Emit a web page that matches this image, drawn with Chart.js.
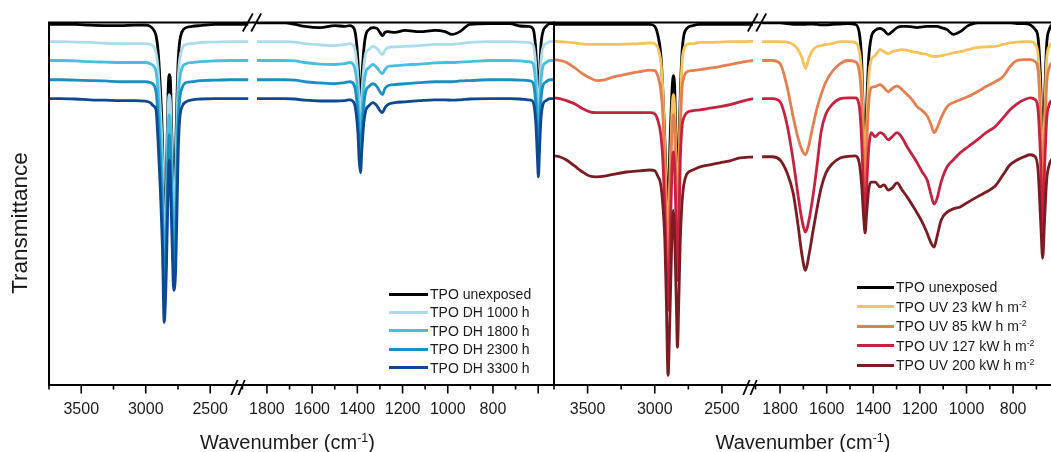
<!DOCTYPE html>
<html><head><meta charset="utf-8">
<script src="https://cdn.jsdelivr.net/npm/chart.js@4"></script>
<style>
html,body{margin:0;padding:0;background:#fff;}
#wrap{position:relative;width:1051px;height:452px;overflow:hidden;font-family:"Liberation Sans",Arial,sans-serif;color:#1a1a1a;}
canvas{position:absolute;top:0;}
#cL{left:0;}
#cR{left:540px;}
.row{position:absolute;height:18px;display:flex;align-items:center;white-space:nowrap;font-size:14px;}
.sw{display:inline-block;height:3px;margin-right:2px;}
.ttl{position:absolute;font-size:20px;line-height:24px;height:24px;white-space:nowrap;text-align:center;}
sup{font-size:0.62em;line-height:0;vertical-align:0.55em;}
</style></head>
<body>
<div id="wrap">
<canvas id="cL" width="556" height="452" style="width:556px;height:452px"></canvas>
<canvas id="cR" width="530" height="452" style="width:530px;height:452px"></canvas>
</div>
<script>
// ---------------- DATA ----------------
// wavenumber grids (cm-1) for each axis segment of each panel
const leftSeg1Wn = [3745, 3660, 3545, 3430, 3315, 3195, 3080, 3005, 2965, 2940, 2920, 2905, 2890, 2870, 2857, 2840, 2826, 2818, 2810, 2795, 2783, 2768, 2756, 2748, 2737, 2718, 2687, 2640, 2578, 2460, 2345, 2205];
const leftSeg2Wn = [1844, 1787, 1720, 1676, 1632, 1565, 1499, 1455, 1433, 1415, 1406, 1397, 1392, 1386, 1380, 1371, 1362, 1349, 1331, 1313, 1300, 1289, 1278, 1265, 1234, 1189, 1123, 1057, 1012, 981, 946, 902, 813, 725, 680, 645, 627, 619, 610, 604, 599, 594, 588, 579, 565, 548, 531];
const rightSeg1Wn = [3746, 3709, 3657, 3597, 3537, 3485, 3433, 3373, 3298, 3209, 3112, 3037, 3000, 2978, 2955, 2940, 2925, 2914, 2901, 2888, 2873, 2862, 2851, 2840, 2831, 2821, 2810, 2798, 2784, 2761, 2716, 2664, 2590, 2515, 2440, 2366, 2269];
const rightSeg2Wn = [1877, 1834, 1800, 1770, 1744, 1723, 1706, 1691, 1676, 1658, 1641, 1624, 1603, 1577, 1542, 1508, 1478, 1461, 1450, 1442, 1435, 1429, 1420, 1409, 1392, 1371, 1354, 1336, 1319, 1298, 1276, 1255, 1233, 1212, 1190, 1169, 1152, 1139, 1126, 1109, 1083, 1057, 1027, 993, 954, 916, 877, 843, 813, 783, 753, 727, 705, 693, 682, 673, 665, 656, 645, 628, 607, 581];

// left panel (damp heat) - transmittance, arbitrary offset units
const leftLabels = ['TPO unexposed', 'TPO DH 1000 h', 'TPO DH 1800 h', 'TPO DH 2300 h', 'TPO DH 3300 h'];
const leftColors = ['#000000', '#acdcec', '#47bfdf', '#1a8fc2', '#0c4893'];
const leftUnexposed1 = [99.4, 99.4, 99.4, 99.2, 99.1, 99.1, 99.2, 99.2, 98.9, 98.1, 96.6, 93.1, 85.6, 70.6, 48.1, 60.6, 83.1, 86.9, 86.1, 68.1, 55.6, 68.1, 83.1, 90.6, 95.1, 97.6, 98.6, 98.9, 99.1, 99.4, 99.4, 99.4];
const leftDH1000_1 = [95.1, 95.1, 95.0, 94.9, 94.7, 94.6, 94.6, 94.6, 94.4, 93.9, 92.4, 88.6, 80.6, 65.6, 43.1, 55.6, 78.1, 81.9, 80.6, 63.1, 50.6, 61.9, 78.1, 85.6, 90.6, 93.4, 94.4, 94.6, 94.9, 95.0, 95.1, 95.1];
const leftDH1800_1 = [90.4, 90.4, 90.3, 90.1, 90.0, 89.9, 89.9, 89.9, 89.6, 89.1, 87.6, 83.1, 74.4, 59.4, 38.1, 50.6, 73.1, 76.9, 75.6, 56.9, 44.4, 54.4, 70.6, 80.6, 85.6, 88.6, 89.6, 89.9, 90.1, 90.3, 90.4, 90.4];
const leftDH2300_1 = [85.6, 85.6, 85.5, 85.4, 85.3, 85.1, 85.1, 85.1, 84.9, 84.4, 82.6, 76.9, 68.1, 51.9, 30.6, 44.4, 66.9, 71.9, 69.4, 50.6, 38.6, 46.9, 63.1, 74.4, 80.6, 83.6, 84.9, 85.1, 85.4, 85.5, 85.6, 85.6];
const leftDH3300_1 = [80.9, 80.9, 80.8, 80.6, 80.5, 80.4, 80.4, 80.3, 79.9, 79.1, 78.1, 70.6, 60.6, 43.1, 25.1, 38.1, 59.4, 65.6, 61.9, 44.4, 33.1, 38.1, 55.6, 68.1, 75.6, 78.9, 80.1, 80.6, 80.8, 80.9, 80.9, 80.9];
const leftUnexposed2 = [99.8, 99.8, 99.8, 99.4, 98.9, 98.6, 99.1, 98.9, 99.1, 98.4, 96.1, 90.1, 83.9, 80.6, 86.4, 93.4, 96.9, 98.1, 98.6, 98.4, 97.4, 96.6, 97.4, 97.6, 97.4, 97.9, 97.6, 97.9, 97.6, 96.9, 97.6, 99.4, 99.6, 99.6, 99.0, 98.9, 98.6, 97.6, 92.6, 85.1, 79.4, 86.4, 93.9, 97.6, 98.9, 99.6, 99.6];
const leftDH1000_2 = [95.1, 95.1, 95.1, 95.0, 94.6, 94.3, 94.1, 94.4, 94.6, 93.9, 91.6, 85.9, 79.6, 76.1, 82.1, 89.1, 92.4, 93.1, 93.9, 93.4, 92.4, 91.9, 92.9, 93.6, 93.8, 93.9, 94.1, 94.4, 94.4, 94.4, 94.6, 94.9, 95.1, 95.1, 95.0, 94.9, 94.6, 93.6, 88.6, 81.1, 75.4, 82.4, 89.9, 93.6, 94.6, 95.1, 95.1];
const leftDH1800_2 = [90.4, 90.4, 90.4, 90.3, 89.9, 89.5, 89.4, 89.6, 89.9, 89.1, 86.9, 81.1, 74.9, 71.4, 77.4, 84.4, 87.6, 88.6, 89.4, 88.6, 87.6, 87.1, 88.1, 88.9, 89.1, 89.3, 89.5, 89.8, 89.9, 89.9, 90.0, 90.1, 90.4, 90.4, 90.3, 90.1, 89.9, 88.9, 83.9, 76.4, 70.6, 77.6, 85.1, 88.9, 89.9, 90.4, 90.4];
const leftDH2300_2 = [85.6, 85.6, 85.6, 85.5, 85.1, 84.8, 84.6, 84.9, 85.1, 84.4, 82.1, 76.4, 70.1, 66.6, 72.6, 79.6, 82.9, 83.9, 84.6, 83.9, 82.6, 81.9, 83.4, 84.1, 84.4, 84.6, 84.9, 85.1, 85.1, 85.1, 85.3, 85.4, 85.6, 85.6, 85.5, 85.4, 85.1, 84.1, 79.1, 71.6, 65.9, 72.9, 80.4, 84.1, 85.1, 85.6, 85.6];
const leftDH3300_2 = [80.9, 80.9, 80.9, 80.8, 80.5, 80.3, 80.3, 80.4, 80.6, 79.9, 77.6, 71.9, 65.6, 62.4, 68.1, 75.1, 78.1, 79.1, 79.9, 79.1, 77.9, 77.4, 78.6, 79.4, 79.9, 80.1, 80.4, 80.6, 80.6, 80.5, 80.6, 80.8, 80.9, 80.9, 80.8, 80.6, 80.4, 79.4, 74.4, 66.9, 61.4, 68.1, 75.6, 79.4, 80.4, 80.9, 80.9];

// right panel (UV)
const rightLabels = ['TPO unexposed', 'TPO UV 23 kW h m-2', 'TPO UV 85 kW h m-2', 'TPO UV 127 kW h m-2', 'TPO UV 200 kW h m-2'];
const rightColors = ['#000000', '#f6c25c', '#e67f50', '#c8213f', '#7b1b22'];
const rightUnexposed1 = [99.4, 99.4, 99.4, 99.4, 99.4, 99.4, 99.4, 99.4, 99.4, 99.4, 99.4, 99.4, 98.9, 96.9, 91.9, 83.1, 70.6, 60.6, 50.6, 68.1, 81.9, 86.6, 83.1, 68.1, 58.1, 68.1, 81.9, 91.9, 96.6, 98.4, 99.1, 99.4, 99.4, 99.4, 99.4, 99.4, 99.4];
const rightUV23_1 = [95.2, 95.1, 95.0, 94.8, 94.5, 94.4, 94.4, 94.4, 94.4, 94.5, 94.6, 94.8, 94.6, 93.6, 90.1, 83.1, 68.1, 55.6, 43.1, 60.6, 76.9, 81.9, 78.1, 63.1, 51.9, 63.1, 78.1, 89.4, 93.1, 94.4, 94.6, 94.9, 94.9, 95.0, 95.1, 95.1, 95.2];
const rightUV85_1 = [90.6, 90.4, 89.9, 88.6, 87.1, 86.1, 85.4, 85.6, 86.4, 87.0, 87.6, 88.0, 87.9, 86.6, 83.1, 76.9, 63.1, 50.6, 38.1, 55.6, 71.9, 76.9, 73.1, 58.1, 46.9, 58.1, 73.1, 83.1, 86.1, 87.6, 87.9, 88.1, 88.5, 88.9, 89.4, 89.9, 90.4];
const rightUV127_1 = [81.1, 80.9, 80.4, 79.6, 78.4, 77.6, 77.4, 77.4, 77.4, 77.4, 77.4, 77.4, 77.1, 75.6, 71.9, 65.6, 53.1, 40.6, 28.1, 43.1, 61.9, 67.6, 63.1, 48.1, 35.6, 48.1, 65.6, 73.6, 76.1, 77.4, 77.9, 78.1, 78.5, 78.9, 79.4, 80.1, 80.9];
const rightUV200_1 = [66.6, 66.4, 65.6, 64.1, 62.6, 61.6, 61.4, 61.6, 62.1, 62.6, 62.9, 63.1, 62.9, 61.6, 59.4, 54.4, 45.6, 30.6, 11.9, 25.6, 45.6, 53.1, 45.6, 30.6, 18.9, 30.6, 45.6, 54.4, 59.4, 62.1, 63.1, 63.9, 64.4, 64.9, 65.4, 66.1, 66.4];
const rightUnexposed2 = [99.8, 99.8, 99.8, 99.6, 99.4, 99.4, 99.4, 99.4, 99.5, 99.5, 99.4, 99.3, 99.3, 99.4, 99.5, 99.6, 99.4, 97.6, 90.6, 75.6, 68.1, 78.1, 90.6, 96.1, 97.9, 98.4, 97.9, 96.9, 97.6, 98.6, 98.9, 98.9, 98.8, 98.6, 98.8, 98.9, 98.9, 98.9, 98.9, 98.6, 98.1, 96.9, 97.6, 99.1, 99.8, 99.8, 99.8, 99.8, 99.8, 99.6, 99.6, 99.3, 98.1, 96.1, 85.6, 68.1, 80.6, 94.4, 98.1, 99.4, 99.6, 99.6];
const rightUV23_2 = [95.1, 95.1, 95.1, 95.0, 94.4, 93.1, 91.1, 88.4, 91.1, 93.1, 93.9, 94.1, 94.4, 94.6, 95.1, 95.1, 94.9, 93.1, 86.9, 73.1, 63.1, 73.1, 85.6, 90.6, 91.6, 93.1, 92.6, 92.1, 92.6, 92.9, 93.1, 92.9, 92.6, 92.4, 92.1, 91.9, 91.5, 91.4, 91.4, 91.6, 91.9, 92.3, 92.6, 93.1, 93.6, 93.8, 93.9, 94.4, 94.8, 95.0, 95.1, 95.1, 94.4, 91.9, 80.6, 63.1, 75.6, 90.6, 93.9, 94.9, 95.1, 95.1];
const rightUV85_2 = [90.4, 90.4, 89.6, 83.9, 76.4, 71.1, 68.1, 66.9, 69.4, 74.4, 78.6, 81.9, 85.1, 87.6, 89.6, 90.4, 90.1, 88.1, 80.6, 68.1, 58.1, 68.1, 79.4, 83.6, 83.9, 84.4, 83.6, 82.6, 83.4, 84.1, 83.1, 81.9, 80.6, 78.9, 77.9, 76.6, 74.4, 72.4, 73.6, 76.1, 78.9, 79.9, 80.6, 81.4, 82.6, 83.9, 85.1, 86.4, 88.9, 90.4, 90.6, 90.6, 90.1, 88.1, 75.6, 58.1, 70.6, 84.4, 88.6, 90.1, 90.4, 90.4];
const rightUV127_2 = [80.9, 80.9, 80.1, 74.4, 65.6, 56.9, 50.6, 47.6, 50.6, 56.9, 64.4, 72.6, 77.1, 79.4, 80.9, 81.1, 81.1, 79.4, 70.6, 58.1, 50.6, 58.1, 68.1, 72.4, 71.4, 72.4, 71.9, 70.6, 71.4, 72.4, 71.1, 68.9, 66.9, 64.9, 62.6, 60.6, 56.9, 54.6, 56.1, 60.1, 63.9, 65.6, 67.4, 68.9, 70.6, 72.4, 73.9, 76.1, 78.1, 79.6, 80.6, 81.1, 80.6, 78.1, 65.6, 48.1, 63.1, 75.6, 79.4, 80.6, 80.9, 80.9];
const rightUV200_2 = [66.4, 66.4, 65.6, 62.4, 57.4, 49.4, 41.9, 38.1, 41.9, 48.1, 53.6, 58.6, 62.4, 64.6, 66.1, 66.5, 66.6, 65.1, 59.4, 51.9, 47.4, 51.9, 58.1, 60.1, 60.1, 58.9, 59.4, 58.1, 58.6, 59.9, 58.1, 56.4, 54.4, 52.4, 50.1, 47.4, 44.9, 43.9, 46.6, 50.6, 52.6, 53.4, 53.9, 55.1, 56.4, 57.6, 59.1, 61.9, 64.4, 65.6, 66.4, 66.9, 66.4, 63.1, 50.6, 41.1, 50.6, 60.6, 64.4, 66.1, 66.4, 66.4];

// tick values / labels
const seg1TickLabels = [3500, 3000, 2500];
const seg1MinorTicks = [3750, 3250, 2750, 2250];
const seg2TickLabels = [1800, 1600, 1400, 1200, 1000, 800];
const seg2MajorTicks = [1800, 1600, 1400, 1200, 1000, 800, 600];
const seg2MinorTicks = [1700, 1500, 1300, 1100, 900, 700];

// ---------------- CHART ----------------
Chart.defaults.font.family = '"Liberation Sans", Arial, sans-serif';
Chart.defaults.color = '#1a1a1a';

function pairs(xs, ys) { return xs.map((x, i) => ({x: x, y: ys[i]})); }

const framePlugin = {
  id: 'frame',
  afterDatasetsDraw(chart, args, o) {
    const {ctx, chartArea: a, scales} = chart;
    ctx.save();
    ctx.strokeStyle = '#000';
    ctx.lineWidth = 2;
    ctx.beginPath();
    ctx.moveTo(a.left, a.bottom); ctx.lineTo(a.left, a.top + 0.5); ctx.lineTo(a.right, a.top + 0.5);
    if (o.rightBorder) ctx.lineTo(a.right, a.bottom);
    ctx.stroke();
    // tick marks
    ctx.lineWidth = 1.6;
    const tick = (s, v, len) => {
      if (v < s.min || v > s.max) return;
      const x = s.getPixelForValue(v);
      ctx.beginPath(); ctx.moveTo(x, a.bottom); ctx.lineTo(x, a.bottom + len); ctx.stroke();
    };
    seg1TickLabels.forEach(v => tick(scales.x1, v, 8.5));
    seg1MinorTicks.forEach(v => tick(scales.x1, v, 4.5));
    seg2MajorTicks.forEach(v => tick(scales.x2, v, 8.5));
    seg2MinorTicks.forEach(v => tick(scales.x2, v, 4.5));
    // axis break marks
    const brk = (cx, cy, hw, hh, gap) => {
      ctx.lineWidth = 1.8;
      [-gap, gap].forEach(d => {
        ctx.beginPath(); ctx.moveTo(cx + d - hw, cy + hh); ctx.lineTo(cx + d + hw, cy - hh); ctx.stroke();
      });
    };
    const bx = scales.x1.right;
    brk(bx, a.top + 0.5, 5, 9, 4.2);
    brk(bx + o.bottomShift, a.bottom + 2.5, 3.2, 7.5, 3.6);
    ctx.restore();
  }
};

function xAxis(min, max, weight, labels) {
  return {
    type: 'linear', position: 'bottom', stack: 'wn', stackWeight: weight,
    reverse: true, min: min, max: max, offset: false,
    grid: {display: false, drawTicks: false},
    border: {display: true, color: '#000', width: 2},
    ticks: {autoSkip: false, maxRotation: 0, minRotation: 0, padding: 15, color: '#1a1a1a',
            font: {size: 16}, callback: v => String(v)},
    afterBuildTicks: s => { s.ticks = labels.map(v => ({value: v})); },
    afterFit: s => { s.height = 67; s.paddingLeft = 0; s.paddingRight = 0; }
  };
}

function makePanel(id, p) {
  const datasets = [];
  p.series.forEach((s, i) => {
    const common = {label: s.label, borderColor: s.color, backgroundColor: s.color,
      borderWidth: 2.8, pointRadius: 0, fill: false, cubicInterpolationMode: 'monotone',
      order: p.series.length - 1 - i, yAxisID: 'y'};
    datasets.push(Object.assign({}, common, {xAxisID: 'x1', data: pairs(p.wn1, s.seg1)}));
    datasets.push(Object.assign({}, common, {xAxisID: 'x2', data: pairs(p.wn2, s.seg2)}));
  });
  return new Chart(document.getElementById(id), {
    type: 'line',
    data: {datasets: datasets},
    options: {
      responsive: false, animation: false, devicePixelRatio: 1,
      layout: {padding: {left: p.padLeft, right: p.padRight, top: 22, bottom: 0}},
      scales: {
        x1: xAxis(p.range1[0], p.range1[1], p.weight1, seg1TickLabels),
        x2: xAxis(p.range2[0], p.range2[1], p.weight2, p.labels2),
        y: {display: false, min: 9.5, max: 100}
      },
      plugins: {legend: {display: false}, tooltip: {enabled: false},
        frame: {rightBorder: p.rightBorder, bottomShift: p.bottomShift}}
    },
    plugins: [framePlugin]
  });
}

const leftChart = makePanel('cL', {
  wn1: leftSeg1Wn, wn2: leftSeg2Wn, padLeft: 49, padRight: 2,
  range1: [2176, 3750], range2: [530, 1866], weight1: 203, weight2: 302,
  labels2: seg2TickLabels, rightBorder: true, bottomShift: -14,
  series: [
    {label: leftLabels[0], color: leftColors[0], seg1: leftUnexposed1, seg2: leftUnexposed2},
    {label: leftLabels[1], color: leftColors[1], seg1: leftDH1000_1, seg2: leftDH1000_2},
    {label: leftLabels[2], color: leftColors[2], seg1: leftDH1800_1, seg2: leftDH1800_2},
    {label: leftLabels[3], color: leftColors[3], seg1: leftDH2300_1, seg2: leftDH2300_2},
    {label: leftLabels[4], color: leftColors[4], seg1: leftDH3300_1, seg2: leftDH3300_2}
  ]
});
const rightChart = makePanel('cR', {
  wn1: rightSeg1Wn, wn2: rightSeg2Wn, padLeft: 14, padRight: 4,
  range1: [2239, 3750], range2: [573, 1899], weight1: 203, weight2: 309,
  labels2: seg2TickLabels, rightBorder: false, bottomShift: -7,
  series: [
    {label: rightLabels[0], color: rightColors[0], seg1: rightUnexposed1, seg2: rightUnexposed2},
    {label: rightLabels[1], color: rightColors[1], seg1: rightUV23_1, seg2: rightUV23_2},
    {label: rightLabels[2], color: rightColors[2], seg1: rightUV85_1, seg2: rightUV85_2},
    {label: rightLabels[3], color: rightColors[3], seg1: rightUV127_1, seg2: rightUV127_2},
    {label: rightLabels[4], color: rightColors[4], seg1: rightUV200_1, seg2: rightUV200_2}
  ]
});

// ---------------- HTML legend & titles ----------------
const wrap = document.getElementById('wrap');
function fmt(t) { return t.replace(/m-(\d)$/, 'm<sup>-$1</sup>').replace(/cm-1/, 'cm<sup>-1</sup>'); }
function legend(chart, lineX, lineW, y0, dy) {
  const seen = [];
  chart.data.datasets.forEach(d => { if (!seen.find(s => s.label === d.label)) seen.push(d); });
  seen.forEach((d, i) => {
    const r = document.createElement('div');
    r.className = 'row';
    r.style.left = lineX + 'px';
    r.style.top = (y0 + i * dy - 9) + 'px';
    r.innerHTML = '<span class="sw" style="width:' + lineW + 'px;background:' + d.borderColor + '"></span><span>' + fmt(d.label) + '</span>';
    wrap.appendChild(r);
  });
}
legend(leftChart, 389, 39, 294, 18.4);
legend(rightChart, 857, 37, 287, 19.5);

function title(text, cx, top) {
  const t = document.createElement('div');
  t.className = 'ttl';
  t.style.left = (cx - 150) + 'px'; t.style.width = '300px'; t.style.top = top + 'px';
  t.innerHTML = fmt(text);
  wrap.appendChild(t);
}
title('Wavenumber (cm-1)', 287.5, 430);
title('Wavenumber (cm-1)', 803, 430);
const yt = document.createElement('div');
yt.className = 'ttl';
yt.style.fontSize = '22.5px';
yt.style.width = '200px';
yt.style.left = (19.5 - 100) + 'px';
yt.style.top = (223 - 12) + 'px';
yt.style.transform = 'rotate(-90deg)';
yt.textContent = 'Transmittance';
wrap.appendChild(yt);
</script>
</body></html>
